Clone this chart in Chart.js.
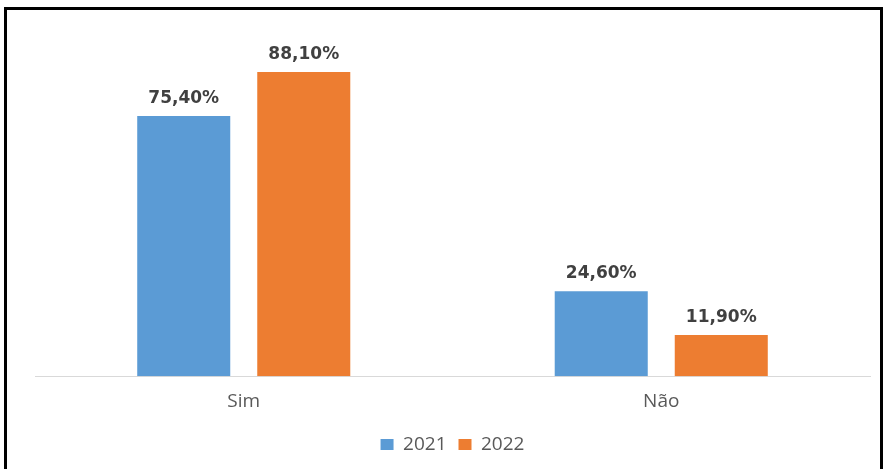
<!DOCTYPE html>
<html>
<head>
<meta charset="utf-8">
<script src="https://cdn.jsdelivr.net/npm/chart.js@4/dist/chart.umd.min.js"></script>
<style>
  body { margin: 0; background: #fff; }
  #wrap { position: relative; width: 885px; height: 469px; overflow: hidden; }
  #frame { position: absolute; left: 4px; top: 7px; width: 873px; height: 480px;
           border: 3px solid #000; border-bottom: none; pointer-events: none; }
</style>
</head>
<body>
<div id="wrap">
  <canvas id="grafico" width="885" height="469"></canvas>
  <div id="frame"></div>
</div>
<script>
const categorias = ["Sim", "Não"];
const anos = ["2021", "2022"];
const valores2021 = [75.4, 24.6];
const valores2022 = [88.1, 11.9];

// rotulos em cima das barras
const rotulosBarras = {
  id: "rotulosBarras",
  afterDatasetsDraw(chart) {
    const ctx = chart.ctx;
    ctx.save();
    ctx.font = "bold 17px 'DejaVu Sans'";
    ctx.fillStyle = "#404040";
    ctx.textAlign = "center";
    ctx.textBaseline = "bottom";
    chart.data.datasets.forEach((ds, i) => {
      chart.getDatasetMeta(i).data.forEach((bar, j) => {
        const txt = ds.data[j].toFixed(2).replace(".", ",") + "%";
        ctx.fillText(txt, bar.x, bar.y - 9);
      });
    });
    ctx.restore();
  }
};

const ctx = document.getElementById("grafico").getContext("2d");
new Chart(ctx, {
  type: "bar",
  data: {
    labels: categorias,
    datasets: [
      { label: anos[0], data: valores2021, backgroundColor: "#5b9bd5" },
      { label: anos[1], data: valores2022, backgroundColor: "#ed7d31" }
    ]
  },
  options: {
    responsive: false,
    animation: false,
    categoryPercentage: 0.575,
    barPercentage: 0.775,
    layout: { padding: { left: 35, right: 15, top: 31, bottom: 5 } },
    plugins: {
      legend: {
        position: "bottom",
        labels: {
          boxWidth: 13, boxHeight: 11, padding: 12,
          color: "#595959",
          font: { family: "'Open Sans'", size: 19 }
        }
      },
      tooltip: { enabled: false }
    },
    scales: {
      x: {
        grid: { display: false },
        border: { color: "#d9d9d9", width: 1 },
        ticks: { color: "#595959", padding: 6, font: { family: "'Open Sans'", size: 19 } },
        afterFit: (eixo) => { eixo.height += 4; }
      },
      y: { display: false, min: 0, max: 100 }
    }
  },
  plugins: [rotulosBarras]
});
</script>
</body>
</html>
